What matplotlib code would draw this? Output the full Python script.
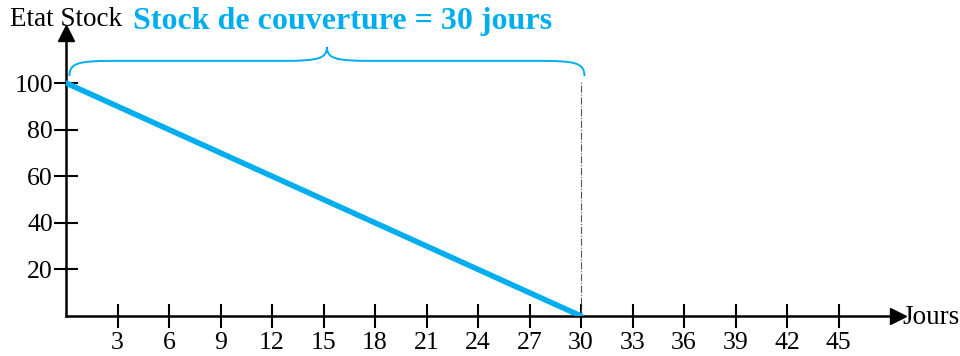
import matplotlib.pyplot as plt
from matplotlib.path import Path
from matplotlib.patches import PathPatch

# stock level over the days
jours = [0, 30]
stock = [100, 0]
x_ticks = [3, 6, 9, 12, 15, 18, 21, 24, 27, 30, 33, 36, 39, 42, 45]
y_ticks = [20, 40, 60, 80, 100]
couverture = 30
titre = "Stock de couverture = 30 jours"

bleu = "#00aeef"
plt.rcParams['font.family'] = ['Liberation Serif', 'DejaVu Serif']

fig = plt.figure(figsize=(9.6, 3.56), dpi=100)
W, H = 960, 356
# axes placed in pixels: origin (66, 316), right end 898, top 33
x0, y0, x1, y1 = 66, 316, 898, 33
ax = fig.add_axes([x0 / W, (H - y0) / H, (x1 - x0) / W, (y0 - y1) / H])
xmax = (x1 - x0) / (515 / 30)
ymax = (y0 - y1) / (233 / 100)
ax.set_xlim(0, xmax)
ax.set_ylim(0, ymax)

for s in ['top', 'right']:
    ax.spines[s].set_visible(False)
for s in ['left', 'bottom']:
    ax.spines[s].set_linewidth(1.8)
ax.set_xticks(x_ticks)
ax.set_yticks(y_ticks)
ax.tick_params(direction='inout', length=17, width=1.5, labelsize=18.5, pad=1)
ax.tick_params(axis='x', pad=3)

# arrow heads
ax.plot([xmax], [0], marker='>', ms=12, color='black', clip_on=False)
ax.plot([0], [ymax], marker='^', ms=12, color='black', clip_on=False)

ax.plot(jours, stock, color=bleu, lw=4, solid_capstyle='round', zorder=3)
ax.plot([couverture, couverture], [0, 101], color='#555555', lw=0.8,
        ls='-.', zorder=2)

# curly brace over the coverage period
ya, yb, yc = 103.0, 109.5, 115.5
xa, xb = 0.2, couverture + 0.2
xm = (xa + xb) / 2
r = 2.5
verts = [(xa, ya), (xa, yb - 1), (xa + 0.5, yb), (xa + r, yb),
         (xm - r, yb),
         (xm - 0.5, yb), (xm, yb + 1), (xm, yc),
         (xm, yb + 1), (xm + 0.5, yb), (xm + r, yb),
         (xb - r, yb),
         (xb - 0.5, yb), (xb, yb - 1), (xb, ya)]
codes = [Path.MOVETO, Path.CURVE4, Path.CURVE4, Path.CURVE4,
         Path.LINETO,
         Path.CURVE4, Path.CURVE4, Path.CURVE4,
         Path.CURVE4, Path.CURVE4, Path.CURVE4,
         Path.LINETO,
         Path.CURVE4, Path.CURVE4, Path.CURVE4]
ax.add_patch(PathPatch(Path(verts, codes), fill=False, ec=bleu, lw=1.4,
                       clip_on=False))

fig.text(10 / W, 1 - 20 / H, "Etat Stock", fontsize=19.5, va='center',
         ha='left')
fig.text(133 / W, 1 - 22 / H, titre, fontsize=23, fontweight='bold',
         color=bleu, va='center', ha='left')
fig.text(902 / W, 1 - 318 / H, "Jours", fontsize=19.5, va='center', ha='left')

fig.savefig('out.png', dpi=100)
